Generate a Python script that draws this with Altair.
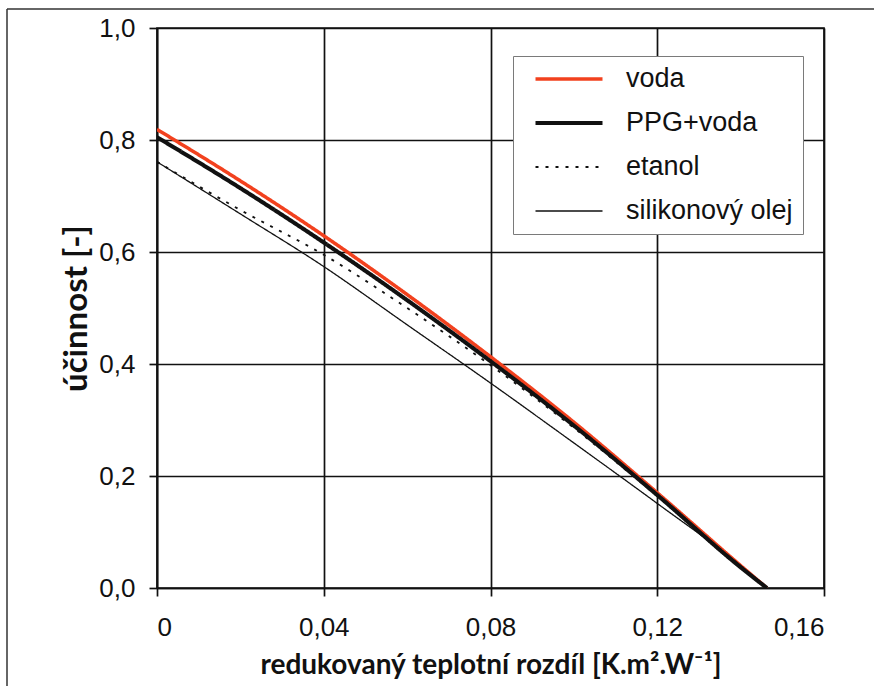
import altair as alt
import pandas as pd

# --- data ---
x_vals = [0.0, 0.02, 0.04, 0.06, 0.08, 0.10, 0.12, 0.14, 0.1463]
voda = [0.819, 0.727, 0.629, 0.524, 0.413, 0.296, 0.170, 0.040, 0.0]
ppg_voda = [0.805, 0.714, 0.617, 0.514, 0.405, 0.290, 0.166, 0.037, 0.0]
etanol = [0.761, 0.675, 0.595, 0.500, 0.398, 0.286, 0.164, 0.036, 0.0]
silikon = [0.761, 0.668, 0.574, 0.470, 0.366, 0.259, 0.151, 0.040, 0.0]

series_names = ["voda", "PPG+voda", "etanol", "silikonový olej"]
series_vals = [voda, ppg_voda, etanol, silikon]

rows = []
for order, (name, vals) in enumerate(zip(series_names, series_vals)):
    for xv, yv in zip(x_vals, vals):
        rows.append({"series": name, "x": xv, "y": yv, "order": order})
df = pd.DataFrame(rows)

FONT = "Liberation Sans"
TITLE_FONT = "Lato"

# shared scale domain (thin -> thick order, two spacer slots for the width point scale)
scale_domain = ["silikonový olej", "etanol", "_a", "_b", "voda", "PPG+voda"]
color_range = ["#111111", "#111111", "#111111", "#111111", "#f2411e", "#111111"]
dash_range = [[1, 0], [3, 7], [1, 0], [1, 0], [1, 0], [1, 0]]

legend = alt.Legend(
    title=None,
    orient="none",
    legendX=356,
    legendY=28,
    values=series_names,
    symbolType="stroke",
    symbolSize=4489,
    symbolOffset=10,
    labelOffset=21,
    labelFont=FONT,
    labelFontSize=27,
    labelColor="#111",
    padding=10,
    rowPadding=17,
    clipHeight=26,
    strokeColor="#7a7a7a",
    fillColor="white",
    labelLimit=400,
)

lines = alt.Chart(df).mark_line(interpolate="monotone", clip=True).encode(
    x=alt.X(
        "x:Q",
        scale=alt.Scale(domain=[0, 0.16], nice=False),
        axis=alt.Axis(
            values=[0, 0.04, 0.08, 0.12, 0.16],
            labelExpr="datum.value == 0 ? '0' : replace(format(datum.value, '.2f'), '.', ',')",
            title="redukovaný teplotní rozdíl [K.m².W⁻¹]",
        ),
    ),
    y=alt.Y(
        "y:Q",
        scale=alt.Scale(domain=[0, 1], nice=False),
        axis=alt.Axis(
            values=[0, 0.2, 0.4, 0.6, 0.8, 1.0],
            labelExpr="replace(format(datum.value, '.1f'), '.', ',')",
            title="účinnost [-]",
        ),
    ),
    color=alt.Color(
        "series:N",
        scale=alt.Scale(domain=scale_domain, range=color_range),
        legend=legend,
    ),
    strokeDash=alt.StrokeDash(
        "series:N",
        scale=alt.Scale(domain=scale_domain, range=dash_range),
        legend=legend,
    ),
    strokeWidth=alt.StrokeWidth(
        "series:N",
        scale=alt.Scale(type="point", domain=scale_domain, range=[1.3, 4.1], padding=0),
        legend=legend,
    ),
    order=alt.Order("order:Q"),
    detail="series:N",
)

frame_df = pd.DataFrame({"k": [0]})
frame_top = alt.Chart(frame_df).mark_rule(color="#333", strokeWidth=1.5).encode(
    x=alt.value(-150), x2=alt.value(720), y=alt.value(-19)
)
frame_left = alt.Chart(frame_df).mark_rule(color="#333", strokeWidth=1.5).encode(
    x=alt.value(-150), y=alt.value(-19), y2=alt.value(660)
)

chart = alt.layer(lines, frame_top, frame_left).properties(
    width=667,
    height=560,
    autosize=alt.AutoSizeParams(type="none"),
    padding={"left": 157, "top": 28, "right": 50, "bottom": 98},
    background="white",
).configure_axis(
    grid=True,
    gridColor="#111",
    gridOpacity=1,
    gridWidth=1.7,
    domainColor="#111",
    domainWidth=1.7,
    tickColor="#111",
    tickWidth=1.7,
    tickSize=8,
    labelFont=FONT,
    labelFontSize=26,
    labelColor="#111",
    titleFont=TITLE_FONT,
    titleFontWeight="bold",
    titleColor="#111",
).configure_axisX(
    labelPadding=18,
    titlePadding=11,
    titleFontSize=28,
).configure_axisY(
    labelPadding=14,
    titlePadding=5,
    titleFontSize=33,
).configure_view(
    stroke="#111",
    strokeWidth=1.7,
)

chart.save("out.html", embed_options={"renderer": "svg", "actions": False})
